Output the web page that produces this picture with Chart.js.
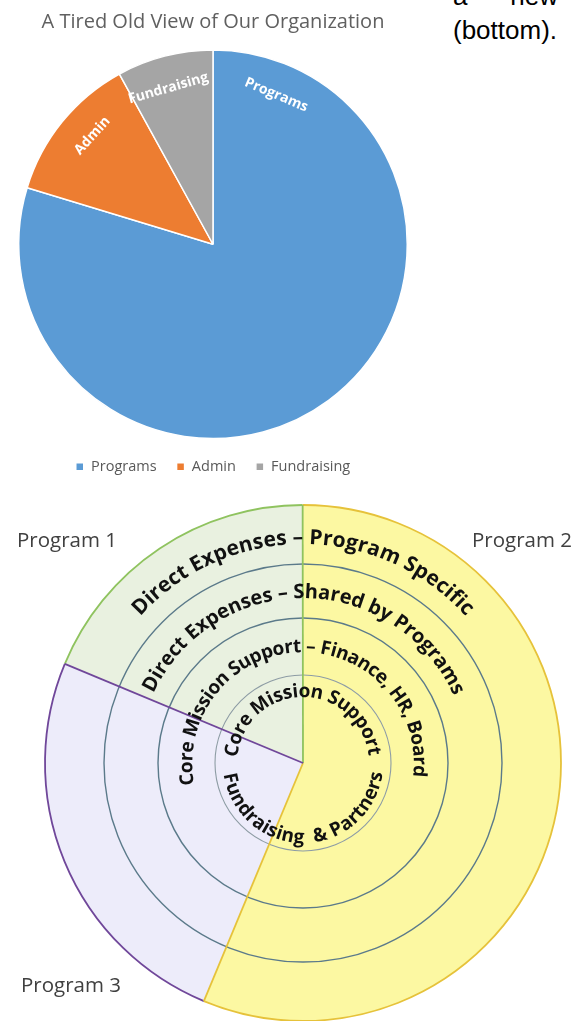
<!DOCTYPE html>
<html><head><meta charset="utf-8">
<script src="https://cdn.jsdelivr.net/npm/chart.js@4.4.1/dist/chart.umd.min.js"></script>
<style>
html,body{margin:0;padding:0;background:#fff;width:576px;height:1021px;overflow:hidden;position:relative;}
canvas{position:absolute;left:0;}
#docText{position:absolute;left:453px;top:-21px;width:105px;font-family:"Liberation Sans",Arial,sans-serif;font-size:26px;line-height:34px;color:#000;text-align:justify;}
</style></head><body>
<div id="docText">a new (bottom).</div>
<canvas id="topChart" width="430" height="484" style="top:0;width:430px;height:484px;"></canvas>
<canvas id="bottomChart" width="576" height="521" style="top:500px;width:576px;height:521px;"></canvas>
<script>
// ---------- data: top pie ----------
const topTitle = 'A Tired Old View of Our Organization';
const topLabels = ['Programs', 'Admin', 'Fundraising'];
const topValues = [79.7, 12.3, 8.0];
const topColors = ['#5b9bd5', '#ed7d31', '#a5a5a5'];

// ---------- data: bottom ring diagram ----------
const programLabels = ['Program 1', 'Program 2', 'Program 3'];
const programValues = [18.7, 56.3, 25.0];
const programFills = ['#e9f1e0', '#fcf8a2', '#edecfa'];
const programLines = ['#8fc35f', '#e6c23a', '#70479a'];
const ringLabels = [
  'Direct Expenses – Program Specific',
  'Direct Expenses – Shared by Programs',
  'Core Mission Support – Finance, HR, Board',
  'Core Mission Support'
];
const centerBottomLabel = 'Fundraising  & Partners';

// ---------- layout (not data) ----------
const ringWeights = [59, 54, 57, 88];
const FONT = '"Open Sans", "DejaVu Sans", sans-serif';

function drawArcText(ctx, text, cx, cy, r, a0, a1, size, color) {
  ctx.save();
  ctx.font = 'bold ' + size + 'px ' + FONT;
  ctx.fillStyle = color;
  ctx.textAlign = 'center';
  ctx.textBaseline = 'alphabetic';
  const chars = Array.from(text);
  const widths = chars.map(c => ctx.measureText(c).width);
  const total = widths.reduce((a, b) => a + b, 0);
  const span = (a1 - a0) * Math.PI / 180;
  const dir = Math.sign(span);
  const k = Math.abs(span) * r / total;
  let a = a0 * Math.PI / 180;
  chars.forEach((c, i) => {
    const half = widths[i] * k / 2 / r;
    a += dir * half;
    ctx.save();
    ctx.translate(cx + r * Math.sin(a), cy - r * Math.cos(a));
    ctx.rotate(dir > 0 ? a : a + Math.PI);
    ctx.fillText(c, 0, 0);
    ctx.restore();
    a += dir * half;
  });
  ctx.restore();
}

const sliceLabels = {
  id: 'sliceLabels',
  afterDatasetsDraw(chart, args, opts) {
    const ctx = chart.ctx;
    const meta = chart.getDatasetMeta(0);
    ctx.save();
    ctx.font = 'bold 14px ' + FONT;
    ctx.fillStyle = '#ffffff';
    ctx.textAlign = 'center';
    ctx.textBaseline = 'middle';
    meta.data.forEach((el, i) => {
      const th = opts.angles[i] * Math.PI / 180;
      const r = el.outerRadius * opts.radiusFrac;
      ctx.save();
      ctx.translate(el.x + r * Math.sin(th), el.y - r * Math.cos(th));
      ctx.rotate(th);
      ctx.fillText(chart.data.labels[i], 0, 0);
      ctx.restore();
    });
    ctx.restore();
  }
};

new Chart(document.getElementById('topChart'), {
  type: 'pie',
  data: {
    labels: topLabels,
    datasets: [{
      data: topValues,
      backgroundColor: topColors,
      borderColor: '#ffffff',
      borderWidth: 1.5,
      hoverOffset: 0
    }]
  },
  options: {
    responsive: false,
    animation: false,
    events: [],
    layout: { padding: { left: 18, right: 22, top: 0, bottom: 0 } },
    plugins: {
      title: {
        display: true,
        text: topTitle,
        color: '#606060',
        font: { family: FONT, size: 20, weight: 'normal' },
        padding: { top: 10, bottom: 15 }
      },
      legend: {
        position: 'bottom',
        labels: {
          boxWidth: 8, boxHeight: 8, padding: 20,
          color: '#595959',
          font: { family: FONT, size: 14.5 }
        }
      },
      tooltip: { enabled: false },
      sliceLabels: { angles: [23, -48, -16], radiusFrac: 0.835 }
    }
  },
  plugins: [sliceLabels]
});

const ringDecor = {
  id: 'ringDecor',
  afterDatasetsDraw(chart, args, opts) {
    const ctx = chart.ctx;
    const outer = chart.getDatasetMeta(0).data;
    const cx = outer[0].x, cy = outer[0].y, R = outer[0].outerRadius;
    ctx.save();
    // ring boundaries
    for (let d = 1; d < chart.data.datasets.length; d++) {
      const el = chart.getDatasetMeta(d).data[0];
      ctx.beginPath();
      ctx.arc(cx, cy, el.outerRadius, 0, Math.PI * 2);
      ctx.strokeStyle = opts.ringColors[d - 1];
      ctx.lineWidth = opts.ringWidths[d - 1];
      ctx.stroke();
    }
    // outer rim per program
    outer.forEach(el => {
      ctx.beginPath();
      ctx.arc(cx, cy, R, el.startAngle, el.endAngle);
      ctx.strokeStyle = el.options.borderColor;
      ctx.lineWidth = opts.rimWidth;
      ctx.stroke();
    });
    // radial dividers
    outer.forEach(el => {
      ctx.beginPath();
      ctx.moveTo(cx, cy);
      ctx.lineTo(cx + R * Math.cos(el.endAngle), cy + R * Math.sin(el.endAngle));
      ctx.strokeStyle = el.options.borderColor;
      ctx.lineWidth = opts.lineWidth;
      ctx.stroke();
    });
    // curved ring labels
    chart.data.datasets.forEach((ds, d) => {
      const el = chart.getDatasetMeta(d).data[0];
      const t = opts.ringText[d];
      const r = el.innerRadius + t.frac * (el.outerRadius - el.innerRadius);
      drawArcText(ctx, ds.label, cx, cy, r, t.from, t.to, t.size, opts.textColor);
    });
    const inner = chart.getDatasetMeta(chart.data.datasets.length - 1).data[0];
    const b = opts.bottomText;
    drawArcText(ctx, centerBottomLabel, cx, cy, inner.outerRadius * b.frac, b.from, b.to, b.size, opts.textColor);
    // program labels
    ctx.font = '20.5px ' + FONT;
    ctx.fillStyle = '#404040';
    ctx.textAlign = 'left';
    ctx.textBaseline = 'alphabetic';
    chart.data.labels.forEach((lab, i) => {
      const p = opts.labelPos[i];
      ctx.fillText(lab, p[0], p[1]);
    });
    ctx.restore();
  }
};

new Chart(document.getElementById('bottomChart'), {
  type: 'pie',
  data: {
    labels: programLabels,
    datasets: ringLabels.map((lab, d) => ({
      label: lab,
      data: programValues,
      backgroundColor: programFills,
      borderColor: programLines,
      borderWidth: 0,
      hoverOffset: 0,
      weight: ringWeights[d]
    }))
  },
  options: {
    responsive: false,
    animation: false,
    events: [],
    rotation: -67.4,
    layout: { padding: { left: 45, right: 15, top: 5, bottom: 0 } },
    plugins: {
      legend: { display: false },
      title: { display: false },
      tooltip: { enabled: false },
      ringDecor: {
        ringColors: ['#5b7a8a', '#5b7a8a', '#8d9ca4'],
        ringWidths: [1.4, 1.4, 1.1],
        rimWidth: 1.8,
        lineWidth: 1.8,
        textColor: '#111111',
        ringText: [
          { frac: 0.34, from: -48, to: 48, size: 21 },
          { frac: 0.37, from: -65, to: 66, size: 20 },
          { frac: 0.40, from: -101, to: 97, size: 19 },
          { frac: 0.75, from: -85, to: 84, size: 19 }
        ],
        bottomText: { frac: 0.91, from: 262, to: 97, size: 19 },
        labelPos: [[17, 47], [472, 47], [21, 492]]
      }
    }
  },
  plugins: [ringDecor]
});
</script>
</body></html>
